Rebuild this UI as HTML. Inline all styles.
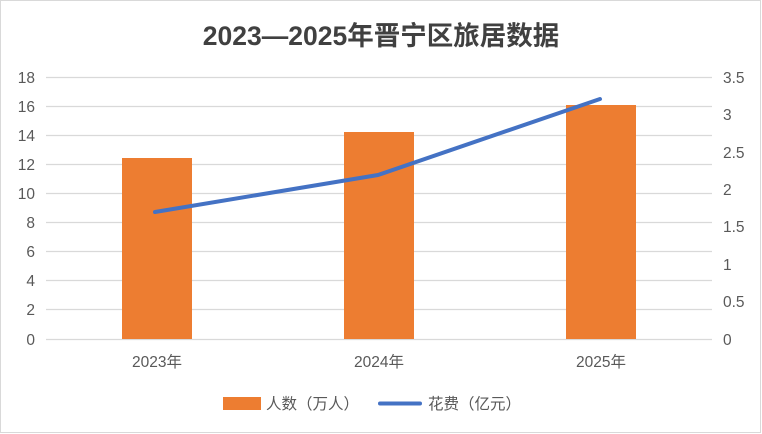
<!DOCTYPE html>
<html><head><meta charset="utf-8"><style>
body{margin:0;background:#fff}
svg{display:block}
text{font-family:"Liberation Sans","Noto Sans CJK SC",sans-serif;fill:#595959}
</style></head><body>
<svg width="762" height="434" xmlns="http://www.w3.org/2000/svg">
<rect x="0.5" y="0.5" width="760" height="432" fill="#fff" stroke="#d9d9d9"/>
<text x="381" y="45" text-anchor="middle" font-size="26.5" font-weight="bold" style="fill:#404040">2023—2025年晋宁区旅居数据</text>
<g stroke="#d9d9d9" stroke-width="1.3">
<line x1="46" x2="712" y1="77.5" y2="77.5"/><line x1="46" x2="712" y1="106.5" y2="106.5"/>
<line x1="46" x2="712" y1="135.5" y2="135.5"/><line x1="46" x2="712" y1="164.5" y2="164.5"/>
<line x1="46" x2="712" y1="193.5" y2="193.5"/><line x1="46" x2="712" y1="222.5" y2="222.5"/>
<line x1="46" x2="712" y1="251.5" y2="251.5"/><line x1="46" x2="712" y1="280.5" y2="280.5"/>
<line x1="46" x2="712" y1="309.5" y2="309.5"/><line x1="46" x2="712" y1="339.5" y2="339.5"/>
</g>
<g font-size="15.5" text-anchor="end">
<text x="35" y="83">18</text><text x="35" y="112">16</text><text x="35" y="141">14</text>
<text x="35" y="170">12</text><text x="35" y="199">10</text><text x="35" y="228">8</text>
<text x="35" y="257">6</text><text x="35" y="286">4</text><text x="35" y="315">2</text><text x="35" y="345">0</text>
</g>
<g font-size="15.5">
<text x="723" y="83">3.5</text><text x="723" y="120">3</text><text x="723" y="158">2.5</text>
<text x="723" y="195">2</text><text x="723" y="232">1.5</text><text x="723" y="270">1</text>
<text x="723" y="307">0.5</text><text x="723" y="345">0</text>
</g>
<g fill="#ed7d31">
<rect x="122" y="158" width="70" height="181"/>
<rect x="344" y="132" width="70" height="207"/>
<rect x="566" y="105" width="70" height="234"/>
</g>
<polyline points="155,212 378,175 600,99" fill="none" stroke="#4472c4" stroke-width="4" stroke-linecap="round" stroke-linejoin="round"/>
<g font-size="15.5" text-anchor="middle">
<text x="157" y="367">2023年</text><text x="379" y="367">2024年</text><text x="601" y="367">2025年</text>
</g>
<rect x="223" y="397" width="38" height="13" fill="#ed7d31"/>
<text x="266" y="409" font-size="15.5">人数（万人）</text>
<line x1="380" x2="420" y1="403.5" y2="403.5" stroke="#4472c4" stroke-width="4" stroke-linecap="round"/>
<text x="428" y="409" font-size="15.5">花费（亿元）</text>
</svg>
</body></html>
